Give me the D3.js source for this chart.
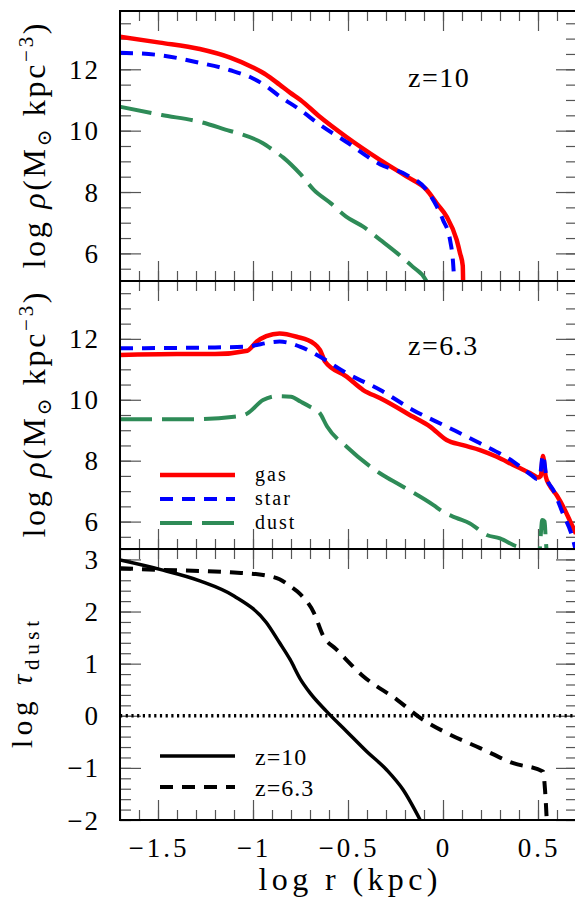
<!DOCTYPE html>
<html><head><meta charset="utf-8">
<script src="https://cdn.jsdelivr.net/npm/d3@7"></script>
<style>
body{margin:0;background:#fff} svg{display:block}
text{font-family:"Liberation Serif","DejaVu Serif",serif;}
</style>
</head><body><svg id="c" width="575" height="905"></svg>
<script>
// ---------- data (log r in kpc) ----------
const gas10R   = [-1.70,-1.49,-1.28,-1.12,-1.00,-0.93,-0.86,-0.805,-0.75,-0.65,-0.51,-0.33,-0.19,-0.086,-0.033,0.019,0.072,0.09,0.104,0.106];
const gas10V   = [13.06,12.87,12.66,12.38,12.06,11.82,11.50,11.24,11.00,10.46,9.80,9.04,8.50,8.07,7.63,7.20,6.44,6.00,5.60,5.00];
const star10R  = [-1.70,-1.49,-1.28,-1.12,-1.00,-0.93,-0.86,-0.75,-0.65,-0.51,-0.33,-0.19,-0.086,-0.033,0.0,0.037,0.053,0.06];
const star10V  = [12.54,12.46,12.21,11.97,11.70,11.45,11.12,10.67,10.20,9.64,8.90,8.55,8.07,7.53,7.09,6.44,5.70,5.00];
const dust10R  = [-1.70,-1.48,-1.28,-1.12,-1.07,-0.95,-0.895,-0.84,-0.75,-0.68,-0.59,-0.51,-0.42,-0.33,-0.24,-0.16,-0.09,-0.08];
const dust10V  = [10.78,10.51,10.29,9.99,9.90,9.60,9.37,9.12,8.58,8.07,7.63,7.20,6.87,6.44,6.00,5.57,5.13,5.00];

const gas6R    = [-1.70,-1.40,-1.20,-1.03,-0.98,-0.93,-0.86,-0.77,-0.68,-0.647,-0.62,-0.507,-0.42,-0.33,-0.157,-0.068,0.019,0.105,0.195,0.283,0.37,0.47,0.50,0.515,0.526,0.54,0.56,0.60,0.64,0.67,0.70];
const gas6V    = [11.47,11.50,11.50,11.61,11.91,12.09,12.18,12.07,11.85,11.63,11.25,10.76,10.32,10.05,9.44,9.12,8.68,8.51,8.35,8.13,7.86,7.55,7.45,7.50,8.15,7.50,7.20,6.85,6.40,6.00,5.60];
const star6R   = [-1.70,-1.20,-1.05,-0.86,-0.75,-0.647,-0.507,-0.33,-0.157,0.019,0.195,0.37,0.47,0.493,0.51,0.526,0.545,0.58,0.63,0.685,0.70];
const star6V   = [11.69,11.72,11.74,11.91,11.74,11.41,10.87,10.32,9.66,9.12,8.57,7.97,7.50,7.40,7.50,8.19,7.45,7.04,6.28,5.40,5.00];
const dust6R   = [-1.70,-1.33,-1.10,-1.03,-0.947,-0.87,-0.80,-0.75,-0.70,-0.647,-0.61,-0.507,-0.33,-0.226,-0.05,0.0,0.07,0.142,0.23,0.30,0.37,0.414,0.43,0.505,0.515,0.522,0.535,0.54,0.548];
const dust6V   = [9.36,9.36,9.44,9.55,9.99,10.12,10.10,9.94,9.77,9.55,9.12,8.46,7.58,7.20,6.54,6.32,6.12,5.94,5.56,5.45,5.23,5.10,4.80,4.80,5.60,6.05,6.00,5.50,4.80];

const tau10R   = [-1.70,-1.49,-1.28,-1.10,-0.93,-0.86,-0.805,-0.75,-0.70,-0.614,-0.507,-0.40,-0.296,-0.21,-0.12];
const tau10V   = [2.99,2.81,2.59,2.30,1.79,1.40,1.08,0.70,0.44,0.09,-0.30,-0.69,-1.04,-1.42,-2.00];
const tau6R    = [-1.70,-1.49,-1.10,-0.93,-0.86,-0.805,-0.75,-0.68,-0.63,-0.56,-0.42,-0.243,-0.12,0.019,0.195,0.37,0.526,0.537,0.546];
const tau6V    = [2.83,2.80,2.75,2.69,2.62,2.49,2.33,1.98,1.53,1.27,0.76,0.31,-0.04,-0.33,-0.62,-0.91,-1.07,-1.42,-2.00];

const xMajor   = [-1.5,-1,-0.5,0,0.5];
const xLabels  = ["\u22121.5","\u22121","\u22120.5","0","0.5"];
const rhoMajor = [6,8,10,12];
const rhoLabels= ["6","8","10","12"];
const tauMajor = [-2,-1,0,1,2,3];
const tauLabels= ["\u22122","\u22121","0","1","2","3"];
const legendRho = ["gas","star","dust"];
const legendTau = ["z=10","z=6.3"];
const panelTags = ["z=10","z=6.3"];

// ---------- layout ----------
const X0 = 120, X1 = 576;
const svg = d3.select("#c");
const x = d3.scaleLinear().domain([-1.7, 0.7]).range([X0, X1]);
const rng = (a,b,s)=>d3.range(Math.round(a/s),Math.round(b/s)+1).map(k=>+(k*s).toFixed(3));
const xMinor = rng(-1.7,0.7,0.1);

const panels = [
  {top:11,  bottom:281, dom:[5.1,13.9], major:rhoMajor, minor:rng(5.5,13.5,0.5), labels:rhoLabels},
  {top:281, bottom:549, dom:[5.1,13.9], major:rhoMajor, minor:rng(5.5,13.5,0.5), labels:rhoLabels},
  {top:549, bottom:820, dom:[-2,3.2],   major:tauMajor, minor:rng(-2,3.2,0.2),   labels:tauLabels}
];
panels.forEach(p => p.y = d3.scaleLinear().domain(p.dom).range([p.bottom, p.top]));

const defs = svg.append("defs");
panels.forEach((p,i)=>{
  defs.append("clipPath").attr("id","clip"+i).append("rect")
    .attr("x",X0).attr("y",p.top).attr("width",X1-X0).attr("height",p.bottom-p.top);
});

function styleTicks(g){
  g.select(".domain").remove();
  g.selectAll("text").remove();
  g.selectAll("line").attr("stroke","#555").attr("stroke-width",1.2);
}
panels.forEach(p=>{
  [[p.major,21,20],[p.minor,11,10]].forEach(([vals,ls,rs])=>{
    svg.append("g").attr("transform",`translate(${X0},0)`)
      .call(d3.axisRight(p.y).tickValues(vals).tickSize(ls)).call(styleTicks);
    svg.append("g").attr("transform",`translate(${X1},0)`)
      .call(d3.axisLeft(p.y).tickValues(vals).tickSize(rs)).call(styleTicks);
  });
  [[xMajor,20],[xMinor,10]].forEach(([vals,s])=>{
    svg.append("g").attr("transform",`translate(0,${p.top})`)
      .call(d3.axisBottom(x).tickValues(vals).tickSize(s)).call(styleTicks);
    svg.append("g").attr("transform",`translate(0,${p.bottom})`)
      .call(d3.axisTop(x).tickValues(vals).tickSize(s)).call(styleTicks);
  });
  svg.append("g").selectAll("text").data(p.major).join("text")
    .attr("x",100).attr("y",d=>p.y(d)+9.5)
    .attr("text-anchor","end").attr("font-size",27)
    .attr("letter-spacing",2)
    .text((d,i)=>p.labels[i]);
});

// curves
function drawLine(pi, R, V, color, width, dash){
  const p = panels[pi];
  const pts = R.map((r,i)=>[r,V[i]]);
  svg.append("path").attr("clip-path",`url(#clip${pi})`)
    .attr("d", d3.line().x(d=>x(d[0])).y(d=>p.y(d[1])).curve(d3.curveMonotoneX)(pts))
    .attr("fill","none").attr("stroke",color).attr("stroke-width",width)
    .attr("stroke-dasharray",dash||null).attr("stroke-linejoin","round");
}
const RED="#ff0000", BLUE="#0000ff", GREEN="#2e8b57";
drawLine(0, dust10R, dust10V, GREEN, 4, "32 10");
drawLine(0, gas10R, gas10V, RED, 4.5);
drawLine(0, star10R, star10V, BLUE, 4, "13 9");
drawLine(1, dust6R, dust6V, GREEN, 4, "32 10");
drawLine(1, gas6R, gas6V, RED, 4.5);
drawLine(1, star6R, star6V, BLUE, 4, "13 9");
drawLine(2, tau10R, tau10V, "#000", 3.5);
drawLine(2, tau6R, tau6V, "#000", 4, "13 9");
svg.append("line").attr("x1",X0).attr("x2",X1)
  .attr("y1",panels[2].y(0)).attr("y2",panels[2].y(0))
  .attr("stroke","#000").attr("stroke-width",3.6).attr("stroke-dasharray","2.2 3.5");

// spines
panels.forEach(p=>{
  svg.append("rect").attr("x",X0).attr("y",p.top).attr("width",X1-X0).attr("height",p.bottom-p.top)
    .attr("fill","none").attr("stroke","#000").attr("stroke-width",2);
});

// x tick labels
svg.append("g").selectAll("text").data(xMajor).join("text")
  .attr("x",d=>x(d)+1).attr("y",857).attr("text-anchor","middle")
  .attr("font-size",27).attr("letter-spacing",3)
  .text((d,i)=>xLabels[i]);

// axis titles
svg.append("text").attr("x",348).attr("y",890).attr("text-anchor","middle")
  .attr("font-size",32).attr("textLength",179).attr("lengthAdjust","spacing")
  .text("log r (kpc)");

[0,1].forEach(i=>{
  const p = panels[i];
  const t = svg.append("text").attr("transform",`translate(45,${(p.top+p.bottom)/2}) rotate(-90)`)
    .attr("text-anchor","middle").attr("font-size",32)
    .attr("textLength",245).attr("lengthAdjust","spacing");
  t.append("tspan").text("log ");
  t.append("tspan").attr("font-style","italic").text("\u03c1");
  t.append("tspan").text("(M");
  t.append("tspan").attr("dy",6).attr("font-size",20).text("\u2299");
  t.append("tspan").attr("dy",-6).text(" kpc");
  t.append("tspan").attr("dy",-12).attr("font-size",21).text("\u22123");
  t.append("tspan").attr("dy",12).text(")");
});
{
  const p = panels[2];
  const t = svg.append("text").attr("transform",`translate(32,${(p.top+p.bottom)/2}) rotate(-90)`)
    .attr("text-anchor","middle").attr("font-size",29)
    .attr("textLength",127).attr("lengthAdjust","spacing");
  t.append("tspan").text("log ");
  t.append("tspan").attr("font-style","italic").text("\u03c4");
  t.append("tspan").attr("dy",7).attr("font-size",21).text("dust");
}

// panel tags
[87,355].forEach((yy,i)=>{
  svg.append("text").attr("x",408).attr("y",yy).attr("font-size",28)
    .attr("letter-spacing",1.5).text(panelTags[i]);
});

// legend panel 2
const legRhoStyle = [[RED,4.5,null],[BLUE,4,"13 9"],[GREEN,4,"32 10"]];
const legRhoY = [475,499,523];
legendRho.forEach((name,i)=>{
  svg.append("line").attr("x1",160).attr("x2",235).attr("y1",legRhoY[i]).attr("y2",legRhoY[i])
    .attr("stroke",legRhoStyle[i][0]).attr("stroke-width",legRhoStyle[i][1])
    .attr("stroke-dasharray",legRhoStyle[i][2]);
  svg.append("text").attr("x",255).attr("y",legRhoY[i]+6).attr("font-size",20)
    .attr("letter-spacing",2).text(name);
});
// legend panel 3
const legTauStyle = [[3.5,null],[4,"13 9"]];
const legTauY = [756,787];
legendTau.forEach((name,i)=>{
  svg.append("line").attr("x1",160).attr("x2",235).attr("y1",legTauY[i]).attr("y2",legTauY[i])
    .attr("stroke","#000").attr("stroke-width",legTauStyle[i][0])
    .attr("stroke-dasharray",legTauStyle[i][1]);
  svg.append("text").attr("x",255).attr("y",legTauY[i]+9).attr("font-size",24)
    .attr("letter-spacing",1).text(name);
});
</script></body></html>
